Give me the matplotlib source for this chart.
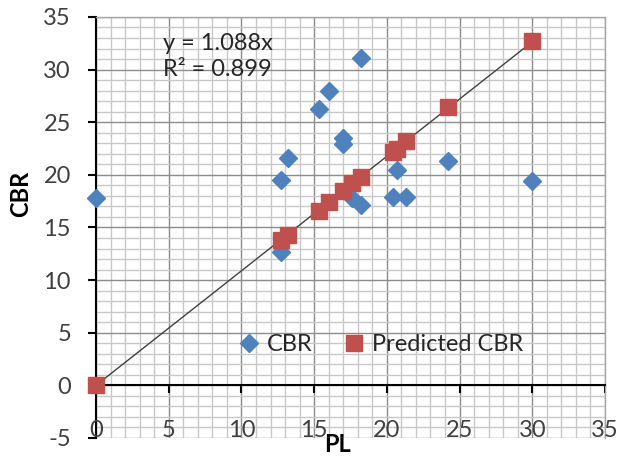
import matplotlib
matplotlib.use("Agg")
import matplotlib.pyplot as plt
from matplotlib.ticker import MultipleLocator

# data
pl = [0.0, 12.7, 13.2, 12.7, 15.3, 16.0, 18.2, 17.0, 17.0, 17.6, 18.2, 20.4, 21.3, 20.7, 24.2, 30.0]
cbr = [17.8, 19.5, 21.6, 12.7, 26.3, 28.0, 31.1, 23.5, 22.9, 17.8, 17.1, 17.9, 17.9, 20.5, 21.3, 19.4]

pred_pl = [0.0, 12.7, 13.2, 15.3, 16.0, 17.0, 17.6, 18.2, 20.4, 20.7, 21.3, 24.2, 30.0]
pred_cbr = [0.0, 13.8, 14.3, 16.6, 17.4, 18.5, 19.2, 19.8, 22.2, 22.5, 23.2, 26.4, 32.7]

slope = 1.088
r2 = 0.899
trend_x = [0.0, 30.0]

xticks = [0, 5, 10, 15, 20, 25, 30, 35]

plt.rcParams["font.family"] = ["Lato", "DejaVu Sans"]
plt.rcParams["axes.unicode_minus"] = False

fs = 17

fig = plt.figure(figsize=(6.25, 4.58), dpi=100)
ax = fig.add_axes([0.1536, 0.0437, 0.8144, 0.9193])

ax.set_xlim(0, 35)
ax.set_ylim(-5, 35)

# grid
ax.xaxis.set_major_locator(MultipleLocator(5))
ax.xaxis.set_minor_locator(MultipleLocator(1))
ax.yaxis.set_major_locator(MultipleLocator(5))
ax.yaxis.set_minor_locator(MultipleLocator(1))
ax.grid(which="minor", color="#c8c8c8", linewidth=1.0)
ax.grid(which="major", color="#8c8c8c", linewidth=1.0)
ax.set_axisbelow(True)

for s in ["top", "right"]:
    ax.spines[s].set_color("#a6a6a6")
    ax.spines[s].set_linewidth(1.0)
ax.spines["left"].set_color("black")
ax.spines["left"].set_linewidth(1.5)
ax.spines["bottom"].set_position(("data", 0))
ax.spines["bottom"].set_color("black")
ax.spines["bottom"].set_linewidth(1.5)

ax.tick_params(which="minor", length=0)
ax.tick_params(axis="y", which="major", direction="out", length=6, width=1.5,
               labelsize=fs, pad=12, labelcolor="#404040")
ax.tick_params(axis="x", which="major", direction="out", length=6, width=1.5,
               labelbottom=False)

# x tick labels sit at the bottom edge of the plot area
for t in xticks:
    ax.text(t, -5.3, str(t), ha="center", va="bottom", fontsize=fs, color="#404040")

ax.plot(trend_x, [slope * v for v in trend_x], color="#404040", linewidth=1.0, zorder=2)
ax.plot(pl, cbr, linestyle="none", marker="D", markersize=9, color="#4f81bd",
        label="CBR", zorder=3, clip_on=False)
ax.plot(pred_pl, pred_cbr, linestyle="none", marker="s", markersize=11, color="#c0504d",
        label="Predicted CBR", zorder=4, clip_on=False)

ax.text(0.132, 0.963, f"y = {slope}x\nR² = {r2}", transform=ax.transAxes,
        ha="left", va="top", fontsize=fs, color="#262626", linespacing=1.3)

ax.set_xlabel("PL", fontsize=fs, fontweight="bold", va="top")
ax.xaxis.set_label_coords(0.475, 0.012)
ax.set_ylabel("CBR", fontsize=fs, fontweight="bold")
ax.yaxis.set_label_coords(-0.125, 0.58)

ax.legend(loc="center", bbox_to_anchor=(0.562, 0.221), ncol=2, frameon=False,
          fontsize=fs, handlelength=0.7, handletextpad=0.4, columnspacing=1.4,
          labelcolor="#262626")

fig.savefig("out.png", dpi=100)
